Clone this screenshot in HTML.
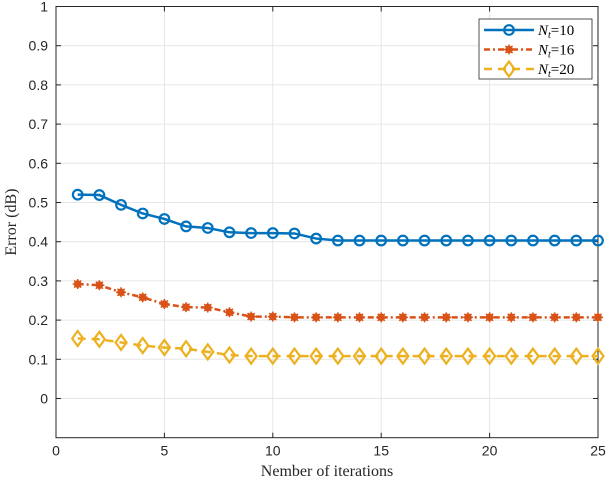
<!DOCTYPE html>
<html><head><meta charset="utf-8"><style>
body{margin:0;background:#fff}
svg{display:block;font-family:"Liberation Serif",serif}
</style></head><body>
<svg id="c" width="608" height="480"></svg>
<script>
const iterations=[1,2,3,4,5,6,7,8,9,10,11,12,13,14,15,16,17,18,19,20,21,22,23,24,25];
const nt10=[0.520,0.519,0.494,0.472,0.458,0.439,0.435,0.424,0.422,0.422,0.421,0.408,0.403,0.403,0.403,0.403,0.403,0.403,0.403,0.403,0.403,0.403,0.403,0.403,0.403];
const nt16=[0.292,0.289,0.271,0.258,0.241,0.233,0.232,0.220,0.209,0.209,0.207,0.207,0.207,0.207,0.207,0.207,0.207,0.207,0.207,0.207,0.207,0.207,0.207,0.207,0.207];
const nt20=[0.153,0.151,0.143,0.135,0.130,0.127,0.119,0.111,0.108,0.108,0.108,0.108,0.108,0.108,0.108,0.108,0.108,0.108,0.108,0.108,0.108,0.108,0.108,0.108,0.108];
const xTicks=[0,5,10,15,20,25];
const yTicks=[0,0.1,0.2,0.3,0.4,0.5,0.6,0.7,0.8,0.9,1];
const L=56,R=598,T=6.5,B=437.7;
const X=v=>L+(v-0)/25*(R-L);
const Y=v=>B-(v+0.1)/1.1*(B-T);
const svg=document.getElementById('c');
const NS='http://www.w3.org/2000/svg';
function mk(tag,attrs,parent){const e=document.createElementNS(NS,tag);for(const k in attrs)e.setAttribute(k,attrs[k]);(parent||svg).appendChild(e);return e;}
let e;
xTicks.forEach(t=>{e=mk('line',{x1:X(t),x2:X(t),y1:T,y2:B,stroke:'#e6e6e6'});

});
yTicks.forEach(t=>{e=mk('line',{x1:L,x2:R,y1:Y(t),y2:Y(t),stroke:'#e6e6e6'});

});
e=mk('rect',{x:L,y:T,width:R-L,height:B-T,fill:'none',stroke:'#262626'});


xTicks.forEach(t=>{mk('line',{x1:X(t),x2:X(t),y1:B,y2:B-5,stroke:'#262626'});mk('line',{x1:X(t),x2:X(t),y1:T,y2:T+5,stroke:'#262626'});
e=mk('text',{x:X(t),y:B+18,'text-anchor':'middle','font-size':14,fill:'#262626','font-family':'Liberation Sans, sans-serif'});e.textContent=t;

});
yTicks.forEach(t=>{mk('line',{x1:L,x2:L+5,y1:Y(t),y2:Y(t),stroke:'#262626'});mk('line',{x1:R,x2:R-5,y1:Y(t),y2:Y(t),stroke:'#262626'});
e=mk('text',{x:L-8,y:Y(t)+5,'text-anchor':'end','font-size':14,fill:'#262626','font-family':'Liberation Sans, sans-serif'});e.textContent=t;

});
e=mk('text',{x:(L+R)/2,y:476,'text-anchor':'middle','font-size':16,fill:'#262626'});e.textContent='Nember of iterations';


e=mk('text',{x:0,y:0,'text-anchor':'middle','font-size':16,fill:'#262626',transform:`translate(16,${(T+B)/2}) rotate(-90)`});e.textContent='Error (dB)';


function marker(kind,x,y,col,g){
 if(kind==='o')mk('circle',{cx:x,cy:y,r:4.8,fill:'none',stroke:col,'stroke-width':2.2},g);
 else if(kind==='*'){mk('circle',{cx:x,cy:y,r:3.8,fill:col},g);for(let a=0;a<4;a++){const r=a*Math.PI/4;mk('line',{x1:x-5*Math.cos(r),y1:y-5*Math.sin(r),x2:x+5*Math.cos(r),y2:y+5*Math.sin(r),stroke:col,'stroke-width':1.5},g);}}
 else mk('polygon',{points:`${x},${y-7.5} ${x+5.5},${y} ${x},${y+7.5} ${x-5.5},${y}`,fill:'none',stroke:col,'stroke-width':2.2},g);
}
const series=[[nt10,'#0072bd','o','','series-nt10'],[nt16,'#d95319','*','6 3 2 3','series-nt16'],[nt20,'#edb120','d','8 6','series-nt20']];
series.forEach(([d,col,m,dash,name])=>{
 const g=mk('g',{});
 
 
 mk('polyline',{points:d.map((v,i)=>X(iterations[i])+','+Y(v)).join(' '),fill:'none',stroke:col,'stroke-width':2.5,'stroke-dasharray':dash},g);
 d.forEach((v,i)=>marker(m,X(iterations[i]),Y(v),col,g));
});
const lg=mk('g',{});


mk('rect',{x:479,y:19,width:113,height:60,fill:'#fff',stroke:'#262626','stroke-width':0.8},lg);
series.forEach(([d,col,m,dash,name],i)=>{
 const y=30+i*19.5;
 const g=mk('g',{},lg);
 
 
 mk('line',{x1:484,x2:534,y1:y,y2:y,stroke:col,'stroke-width':2.5,'stroke-dasharray':dash},g);
 marker(m,509,y,col,g);
 const t=mk('text',{x:538,y:y+5,'font-size':15,fill:'#000'},g);
 t.innerHTML='<tspan font-style="italic">N</tspan><tspan font-style="italic" font-size="10" dy="3">t</tspan><tspan dy="-3">='+['10','16','20'][i]+'</tspan>';
});
</script>
</body></html>
